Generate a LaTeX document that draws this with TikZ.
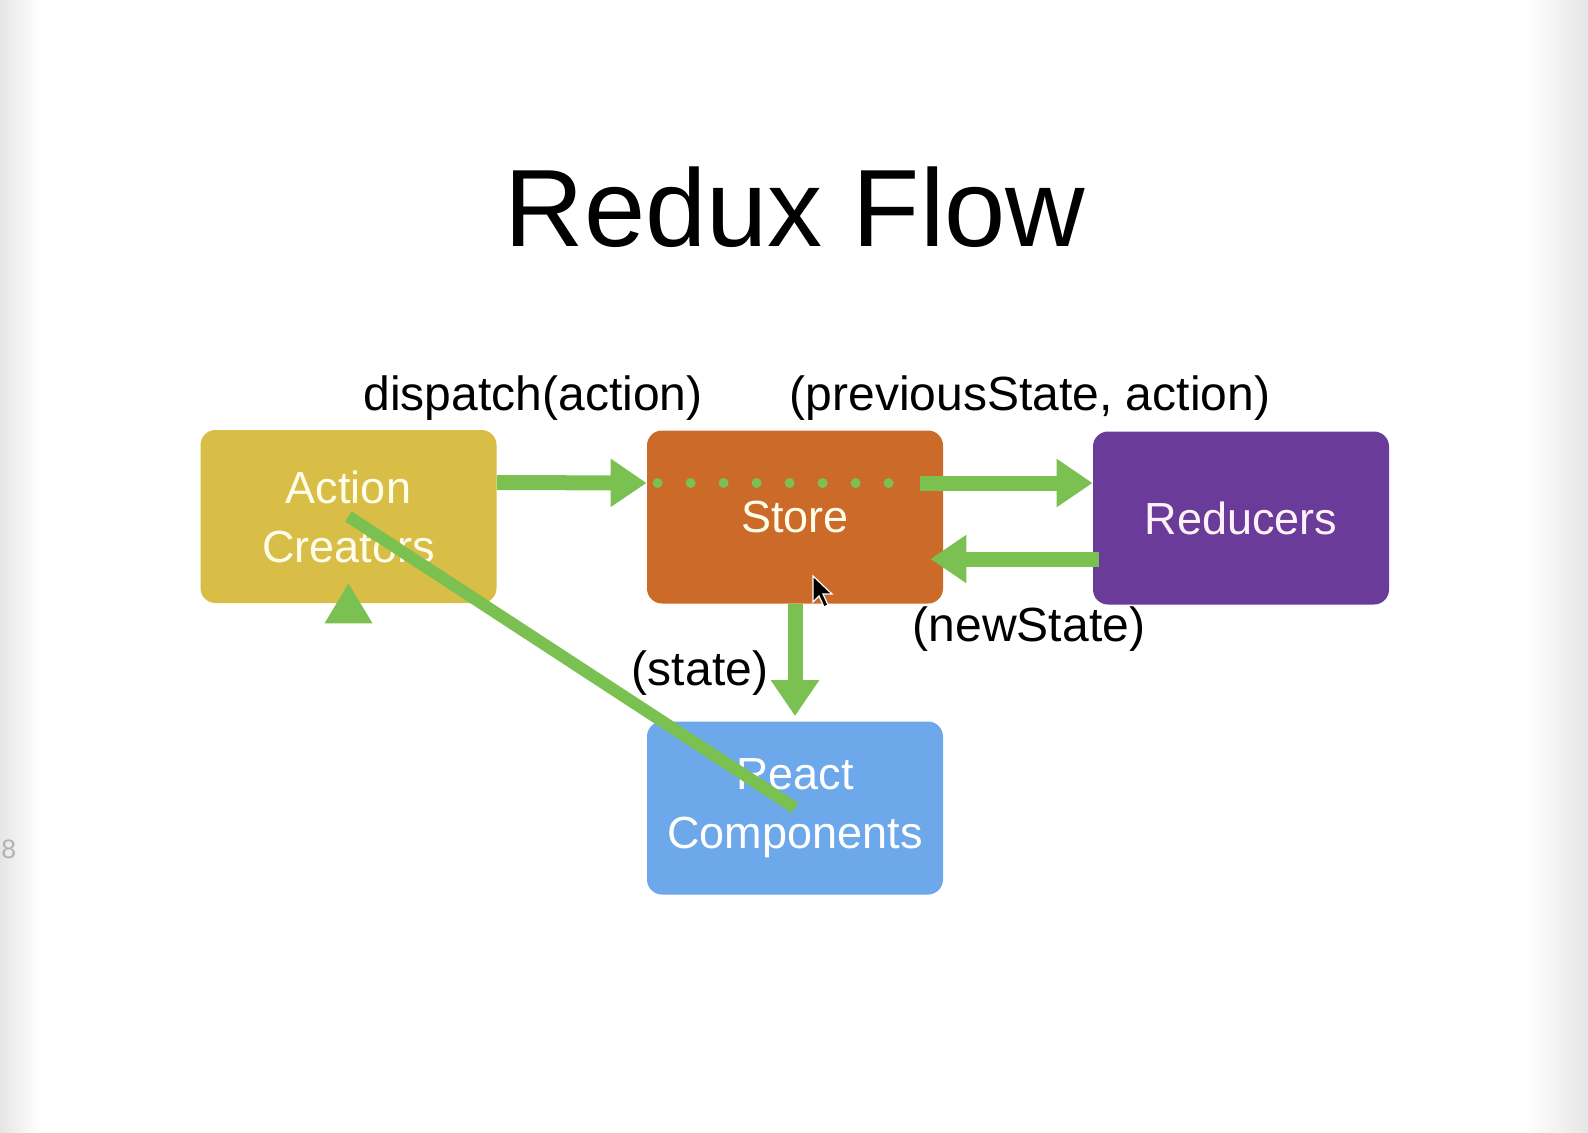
\documentclass[tikz,border=0pt]{standalone}
\usepackage{fontspec}
\setmainfont{Liberation Sans}
\usetikzlibrary{arrows.meta}
\definecolor{acY}{HTML}{D8BD46}
\definecolor{stO}{HTML}{CC6A2A}
\definecolor{rdP}{HTML}{6A3B98}
\definecolor{rcB}{HTML}{6CA8EA}
\definecolor{gr}{HTML}{7AC152}
\definecolor{edgeG}{HTML}{E6E6E6}
\tikzset{
  box/.style={rounded corners=7.5pt, minimum width=148pt, minimum height=86.5pt,
    align=center, text=#1, font=\fontsize{22.5}{29.5}\selectfont, inner sep=0pt},
  lbl/.style={anchor=base, font=\fontsize{24}{28}\selectfont, inner sep=0pt},
  arr/.style={draw=gr, line width=7.5pt, -{Triangle[length=18pt,width=23pt]}},
  dots/.style={draw=gr, line width=5pt, line cap=round, dash pattern=on 0pt off 16.5pt},
}
\begin{document}
\begin{tikzpicture}[x=0.5pt,y=-0.5pt]
\useasboundingbox (0,0) rectangle (1588,1132);
\fill[white] (0,0) rectangle (1588,1132);
\shade[left color=edgeG, right color=white] (0,0) rectangle (40,1132);
\shade[left color=white, right color=edgeG] (1525,0) rectangle (1588,1132);
\node[anchor=base west, inner sep=0pt, text=black!30, font=\fontsize{13.3}{15}\selectfont] (num) at (1,858) {8};

\node[anchor=base, inner sep=0pt, font=\fontsize{55}{60}\selectfont] (title) at (795,246) {Redux Flow};

\node[box=white!92!yellow, fill=acY] (ac) at (348.5,516.5) {Action\\Creators};
\node[box=white!92!yellow, fill=stO] (st) at (795,517) {Store};
\node[box=white!95!magenta, fill=rdP] (rd) at (1241,518) {Reducers};
\node[box=white, fill=rcB] (rc) at (795,808) {React\\Components};

\node[lbl] (l1) at (533,410) {dispatch(action)};
\node[lbl] (l2) at (1030,410) {(previousState, action)};
\node[lbl] (l3) at (1029,641) {(newState)};
\node[lbl] (l4) at (700,685) {(state)};

\draw[arr] ([yshift=17pt]ac.east) -- ([yshift=17pt]st.west);
\draw[dots] ([xshift=5.5pt,yshift=17pt]st.west) -- ([xshift=-26.5pt,yshift=17pt]st.east);
\draw[arr] ([xshift=-11.5pt,yshift=17pt]st.east) -- ([yshift=17.5pt]rd.west);
\draw[arr] ([xshift=3pt,yshift=-20.5pt]rd.west) -- ([xshift=-6.5pt,yshift=-21pt]st.east);
\draw[arr, shorten >=2.5pt] (st.south) -- (rc.north);
\draw[draw=gr, line width=6pt] (ac.center) -- (rc.center);
\fill[gr] ([yshift=10pt]ac.south) -- ++(-12pt,-20pt) -- ++(24pt,0pt) -- cycle;

% mouse pointer
\coordinate (cur) at (813,576);
\filldraw[fill=black, draw=white, line width=0.6pt] (cur) -- ++(0pt,-13pt) -- ++(3pt,3pt) -- ++(2.5pt,-5.5pt) -- ++(2pt,1pt) -- ++(-2.5pt,5.5pt) -- ++(4.5pt,0pt) -- cycle;
\end{tikzpicture}
\end{document}
